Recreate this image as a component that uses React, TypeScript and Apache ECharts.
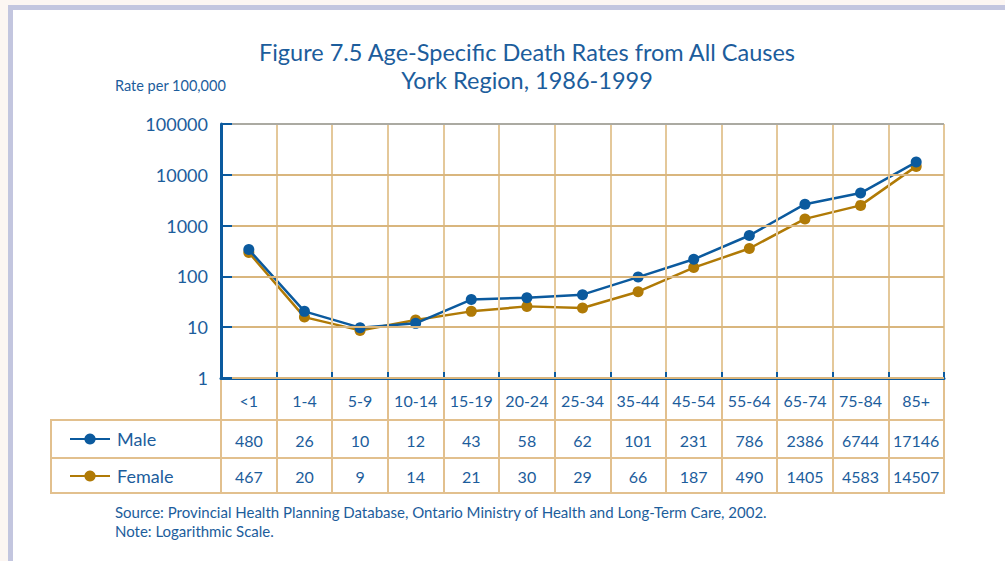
import React, { useEffect, useRef } from "react";
import * as echarts from "echarts";

const categories = ["<1", "1-4", "5-9", "10-14", "15-19", "20-24", "25-34", "35-44", "45-54", "55-64", "65-74", "75-84", "85+"];
const maleTable = [480, 26, 10, 12, 43, 58, 62, 101, 231, 786, 2386, 6744, 17146];
const femaleTable = [467, 20, 9, 14, 21, 30, 29, 66, 187, 490, 1405, 4583, 14507];
// values as plotted in the figure
const malePlotted = [337, 20.5, 9.8, 11.9, 35, 38, 43.7, 97, 217, 638, 2640, 4370, 17800];
const femalePlotted = [295, 15.8, 8.65, 13.9, 20.5, 25.7, 23.8, 50, 149, 354, 1355, 2500, 14650];
const seriesNames = ["Male", "Female"];

const BLUE = "#0b5a9e";
const TEXT = "#1c5d9c";
const GOLD = "#b07a06";
const HGRID = "#d9b67e";
const VGRID = "#e4c89a";
const TABLE = "#e2c08e";
const FONT = "Lato, 'Open Sans', sans-serif";

export default function App() {
  const ref = useRef<HTMLDivElement>(null);
  useEffect(() => {
    const chart = echarts.init(ref.current!, null, { renderer: "svg" });
    chart.setOption({
      animation: false,
      backgroundColor: "#fcf6f2",
      textStyle: { fontFamily: FONT },
      grid: { left: 221, top: 124, width: 723, height: 254, containLabel: false },
      legend: {
        orient: "vertical",
        left: 64,
        top: 424,
        itemWidth: 40,
        itemHeight: 14,
        itemGap: 17,
        data: seriesNames,
        textStyle: { fontSize: 18, color: TEXT, lineHeight: 20, padding: [0, 0, 0, 2], fontFamily: FONT },
      },
      xAxis: [
        {
          type: "category",
          data: categories,
          boundaryGap: true,
          position: "bottom",
          axisLine: { show: true, lineStyle: { color: BLUE, width: 3 } },
          axisTick: { show: true, inside: true, length: 6, interval: 0, lineStyle: { color: BLUE, width: 2 } },
          axisLabel: { interval: 0, fontSize: 16, color: TEXT, margin: 22, verticalAlign: "middle", fontFamily: FONT },
          splitLine: { show: true, interval: 0, lineStyle: { color: VGRID, width: 2 } },
          z: 5,
        },
        {
          type: "category",
          data: maleTable.map(String),
          boundaryGap: true,
          position: "bottom",
          axisLine: { show: false },
          axisTick: { show: true, inside: false, length: 115, interval: 0, lineStyle: { color: TABLE, width: 2 } },
          axisLabel: { interval: 0, fontSize: 16, color: TEXT, margin: 62, verticalAlign: "middle", fontFamily: FONT },
          splitLine: { show: false },
          z: 1,
        },
        {
          type: "category",
          data: femaleTable.map(String),
          boundaryGap: true,
          position: "bottom",
          axisLine: { show: false },
          axisTick: { show: false },
          axisLabel: { interval: 0, fontSize: 16, color: TEXT, margin: 98, verticalAlign: "middle", fontFamily: FONT },
          splitLine: { show: false },
        },
      ],
      yAxis: {
        type: "log",
        logBase: 10,
        min: 1,
        max: 100000,
        splitNumber: 5,
        axisLine: { show: true, lineStyle: { color: BLUE, width: 3 } },
        axisTick: { show: true, inside: true, length: 11, lineStyle: { color: BLUE, width: 2 } },
        axisLabel: {
          fontSize: 18,
          color: TEXT,
          margin: 13,
          fontFamily: FONT,
          formatter: (v: number) => String(Math.round(v)),
        },
        splitLine: {
          show: true,
          lineStyle: { color: [HGRID, HGRID, HGRID, HGRID, HGRID, "#abaaa2"], width: 2 },
        },
        z: 6,
      },
      series: [
        {
          name: "Female",
          type: "line",
          data: femalePlotted,
          symbol: "circle",
          symbolSize: 11,
          itemStyle: { color: GOLD },
          lineStyle: { color: GOLD, width: 2.5 },
          z: 3,
        },
        {
          name: "Male",
          type: "line",
          data: malePlotted,
          symbol: "circle",
          symbolSize: 11,
          itemStyle: { color: BLUE },
          lineStyle: { color: BLUE, width: 2.5 },
          z: 4,
        },
      ],
      graphic: [
        { type: "rect", z: -10, shape: { x: 8, y: 5, width: 997, height: 556 }, style: { fill: "#c3c6df" }, silent: true },
        { type: "rect", z: -9, shape: { x: 13, y: 10, width: 992, height: 551 }, style: { fill: "#ffffff" }, silent: true },
        {
          type: "text",
          x: 527,
          y: 52,
          style: { text: "Figure 7.5 Age-Specific Death Rates from All Causes", fontSize: 23.5, fill: TEXT, fontFamily: FONT, textAlign: "center", textVerticalAlign: "middle" },
        },
        {
          type: "text",
          x: 527,
          y: 80,
          style: { text: "York Region, 1986-1999", fontSize: 23.5, fill: TEXT, fontFamily: FONT, textAlign: "center", textVerticalAlign: "middle" },
        },
        {
          type: "text",
          x: 115,
          y: 85,
          style: { text: "Rate per 100,000", fontSize: 14.5, fill: TEXT, fontFamily: FONT, textVerticalAlign: "middle" },
        },
        {
          type: "text",
          x: 115,
          y: 512,
          style: { text: "Source: Provincial Health Planning Database, Ontario Ministry of Health and Long-Term Care, 2002.", fontSize: 15, fill: TEXT, fontFamily: FONT, textVerticalAlign: "middle" },
        },
        {
          type: "text",
          x: 115,
          y: 531,
          style: { text: "Note: Logarithmic Scale.", fontSize: 15, fill: TEXT, fontFamily: FONT, textVerticalAlign: "middle" },
        },
        { type: "line", shape: { x1: 51, y1: 420, x2: 945, y2: 420 }, style: { stroke: TABLE, lineWidth: 2 } },
        { type: "line", shape: { x1: 51, y1: 458, x2: 945, y2: 458 }, style: { stroke: TABLE, lineWidth: 2 } },
        { type: "line", shape: { x1: 51, y1: 493, x2: 945, y2: 493 }, style: { stroke: TABLE, lineWidth: 2 } },
        { type: "line", shape: { x1: 51, y1: 419, x2: 51, y2: 494 }, style: { stroke: TABLE, lineWidth: 2 } },
      ],
    });
    return () => chart.dispose();
  }, []);
  return <div ref={ref} style={{ position: "absolute", left: 0, top: 0, width: 1005, height: 561 }} />;
}
